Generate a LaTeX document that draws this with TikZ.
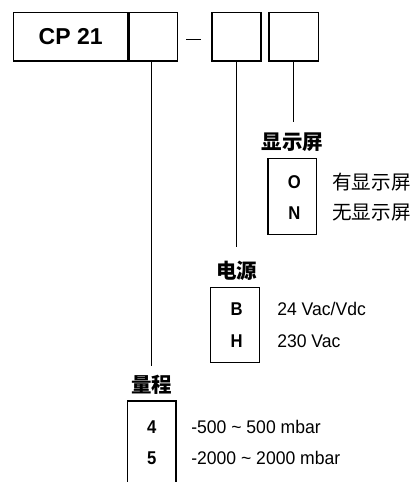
\documentclass[tikz,border=0pt]{standalone}
\usepackage{fontspec}
\setmainfont{Liberation Sans}
\newfontfamily\narrowfont[FakeStretch=0.96]{Liberation Sans}
\newfontfamily\letterfont[FakeStretch=0.9]{Liberation Sans}
\newfontfamily\cjk{Noto Sans CJK SC}
\usetikzlibrary{positioning}
\tikzset{
  codebox/.style={draw, minimum height=48.7pt, inner sep=0pt},
  optbox/.style={draw, minimum width=48.8pt, inner sep=0pt},
  grouplabel/.style={font=\cjk\bfseries\fontsize{20.5}{20.5}\selectfont, inner sep=0pt},
  optletter/.style={font=\letterfont\bfseries\fontsize{18.5}{18.5}\selectfont, inner sep=0pt},
  optdesc/.style={anchor=west, font=\narrowfont\fontsize{18.3}{18.3}\selectfont, inner sep=0pt}
}
\begin{document}
\begin{tikzpicture}[x=1pt,y=-1pt,line width=1.2pt]
	\useasboundingbox (0,0) rectangle (416,482);
	% order code boxes
	\node[codebox, minimum width=114pt, font=\bfseries\fontsize{23}{23}\selectfont] (cp) at (70.7,36.7) {CP 21};
	\node[codebox, minimum width=48.6pt, right=0pt of cp] (rangebox) {};
	\draw (186,39.3) -- (200.7,39.3);
	\node[codebox, minimum width=49pt] (powerbox) at (236.5,36.7) {};
	\node[codebox, minimum width=49.3pt, right=6.7pt of powerbox] (dispbox) {};
	% display
	\draw (dispbox.south) -- ++(0,60.7) coordinate (dispend);
	\node[grouplabel] (displbl) at (292.3,141.7) {显示屏};
	\node[optbox, minimum height=76pt] (dispopt) at (292.3,196.3) {};
	\node[optletter] (dispo) at (294.3,181.7) {O};
	\node[optletter] (dispn) at (294.3,212.7) {N};
	\node[optdesc, font=\cjk\fontsize{19.6}{19.6}\selectfont] (dispodesc) at (331.7,181.7) {有显示屏};
	\node[optdesc, font=\cjk\fontsize{19.6}{19.6}\selectfont] (dispndesc) at (331.7,212.7) {无显示屏};
	% power supply
	\draw (powerbox.south) -- ++(0,185.7) coordinate (powerend);
	\node[grouplabel] (powerlbl) at (236.7,271) {电源};
	\node[optbox, minimum height=75pt] (poweropt) at (235,325.2) {};
	\node[optletter] (powerb) at (236.7,309.3) {B};
	\node[optletter] (powerh) at (236.7,340.7) {H};
	\node[optdesc] (powerbdesc) at (276.7,309.3) {24 Vac/Vdc};
	\node[optdesc] (powerhdesc) at (276.7,340.7) {230 Vac};
	% range
	\draw ([xshift=-2pt]rangebox.south) -- ++(0,304) coordinate (rangeend);
	\node[grouplabel] (rangelbl) at (151.7,385) {量程};
	\draw (127.7,482) |- (176,401) -- (176,482);
	\node[optletter] (range4) at (151.7,426.7) {4};
	\node[optletter] (range5) at (151.7,458.3) {5};
	\node[optdesc] (range4desc) at (190.7,426.7) {-500 \textasciitilde{} 500 mbar};
	\node[optdesc] (range5desc) at (190.7,458.3) {-2000 \textasciitilde{} 2000 mbar};
\end{tikzpicture}
\end{document}
